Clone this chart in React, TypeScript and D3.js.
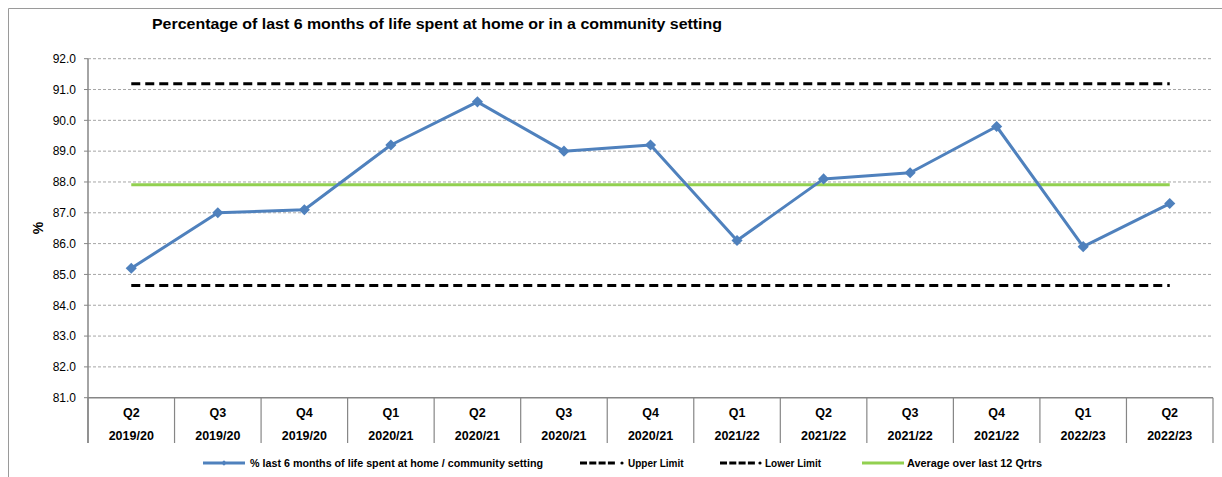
import React from "react";
import * as d3 from "d3";

const quarters = ["Q2", "Q3", "Q4", "Q1", "Q2", "Q3", "Q4", "Q1", "Q2", "Q3", "Q4", "Q1", "Q2"];
const years = ["2019/20", "2019/20", "2019/20", "2020/21", "2020/21", "2020/21", "2020/21", "2021/22", "2021/22", "2021/22", "2021/22", "2022/23", "2022/23"];
const values = [85.2, 87.0, 87.1, 89.2, 90.6, 89.0, 89.2, 86.1, 88.1, 88.3, 89.8, 85.9, 87.3];
const upperLimit = 91.19;
const lowerLimit = 84.64;
const average = 87.91;
const yTicks = [81, 82, 83, 84, 85, 86, 87, 88, 89, 90, 91, 92];
const title = "Percentage of last 6 months of life spent at home or in a community setting";
const legendLabels = [
  "% last 6 months of life spent at home / community setting",
  "Upper Limit",
  "Lower Limit",
  "Average over last 12 Qrtrs",
];

const W = 1222;
const H = 477;
const left = 88;
const right = 1213;
const top = 58.7;
const bottom = 397.7;
const BLUE = "#4F81BD";
const GREEN = "#92D050";
const AXIS = "#868686";
const FONT = "'Liberation Sans', Arial, sans-serif";

export default function App() {
  const idx = values.map((_, i) => i);
  const x = d3.scaleBand<number>().domain(idx).range([left, right]);
  const y = d3.scaleLinear().domain([81, 92]).range([bottom, top]);
  const cx = (i: number) => (x(i) as number) + x.bandwidth() / 2;
  const line = d3
    .line<number>()
    .x((_, i) => cx(i))
    .y((d) => y(d));
  const diamond = d3.symbol().type(d3.symbolSquare).size(62)() as string;
  const smallDiamond = d3.symbol().type(d3.symbolSquare).size(14)() as string;
  const x0 = cx(0);
  const x1 = cx(values.length - 1);
  const bounds = [...idx.map((i) => x(i) as number), right];

  const legY = 463;
  const legBase = 467;
  return (
    <svg width={W} height={H} style={{ position: "absolute", left: 0, top: 0, background: "#fff" }} fontFamily={FONT}>
      <rect x={0} y={0} width={W} height={H} fill="#fff" />
      <path d={`M8.5,${H} V8.5 H${W}`} fill="none" stroke="#9a9a9a" strokeWidth={1} />
      <text x={152} y={29.3} fontSize={14.5} fontWeight="bold" fill="#000" textLength={570} lengthAdjust="spacingAndGlyphs">
        {title}
      </text>
      {/* gridlines */}
      {yTicks.slice(1).map((t) => (
        <line key={t} x1={left} x2={right} y1={y(t)} y2={y(t)} stroke="#a6a6a6" strokeWidth={1} strokeDasharray="3,2" />
      ))}
      {/* y tick marks + labels */}
      {yTicks.map((t) => (
        <g key={"t" + t}>
          <line x1={left - 4} x2={left} y1={y(t)} y2={y(t)} stroke={AXIS} />
          <text x={76} y={y(t) + 4.3} textAnchor="end" fontSize={12} fill="#000">
            {t.toFixed(1)}
          </text>
        </g>
      ))}
      <text transform={`translate(43,${228}) rotate(-90)`} textAnchor="middle" fontSize={14} fontWeight="bold">
        %
      </text>
      {/* axes */}
      <line x1={left} x2={left} y1={top} y2={443} stroke={AXIS} strokeWidth={1.5} />
      <line x1={left} x2={right} y1={bottom} y2={bottom} stroke={AXIS} strokeWidth={1.5} />
      {bounds.map((b, i) => (
        <line key={"b" + i} x1={b} x2={b} y1={bottom} y2={443} stroke={AXIS} strokeWidth={1.2} />
      ))}
      {idx.map((i) => (
        <g key={"c" + i}>
          <text x={cx(i)} y={417} textAnchor="middle" fontSize={12.5} fontWeight="bold">
            {quarters[i]}
          </text>
          <text x={cx(i)} y={439.5} textAnchor="middle" fontSize={12.5} fontWeight="bold">
            {years[i]}
          </text>
        </g>
      ))}
      {/* limits */}
      <line x1={x0} x2={x1} y1={y(upperLimit)} y2={y(upperLimit)} stroke="#000" strokeWidth={3} strokeDasharray="9,5" />
      <line x1={x0} x2={x1} y1={y(lowerLimit)} y2={y(lowerLimit)} stroke="#000" strokeWidth={3} strokeDasharray="9,5" />
      <line x1={x0} x2={x1} y1={y(average)} y2={y(average)} stroke={GREEN} strokeWidth={3} />
      {/* series */}
      <path d={line(values) as string} fill="none" stroke={BLUE} strokeWidth={3} strokeLinejoin="round" />
      {values.map((v, i) => (
        <path key={"m" + i} d={diamond} transform={`translate(${cx(i)},${y(v)}) rotate(45)`} fill={BLUE} />
      ))}
      {/* legend */}
      <line x1={203} x2={245} y1={legY} y2={legY} stroke={BLUE} strokeWidth={3} />
      <path d={smallDiamond} transform={`translate(224,${legY}) rotate(45)`} fill={BLUE} />
      <text x={250} y={legBase} fontSize={10.5} fontWeight="bold" textLength={293} lengthAdjust="spacingAndGlyphs">
        {legendLabels[0]}
      </text>
      <line x1={580} x2={616} y1={legY} y2={legY} stroke="#000" strokeWidth={3} strokeDasharray="7,2.3" />
      <circle cx={622} cy={legY} r={1.6} fill="#000" />
      <text x={628} y={legBase} fontSize={10} fontWeight="bold">
        {legendLabels[1]}
      </text>
      <line x1={720} x2={756} y1={legY} y2={legY} stroke="#000" strokeWidth={3} strokeDasharray="7,2.3" />
      <circle cx={760} cy={legY} r={1.6} fill="#000" />
      <text x={765} y={legBase} fontSize={10} fontWeight="bold">
        {legendLabels[2]}
      </text>
      <line x1={862} x2={904} y1={legY} y2={legY} stroke={GREEN} strokeWidth={3} />
      <text x={907} y={legBase} fontSize={10.5} fontWeight="bold" textLength={135} lengthAdjust="spacingAndGlyphs">
        {legendLabels[3]}
      </text>
    </svg>
  );
}
